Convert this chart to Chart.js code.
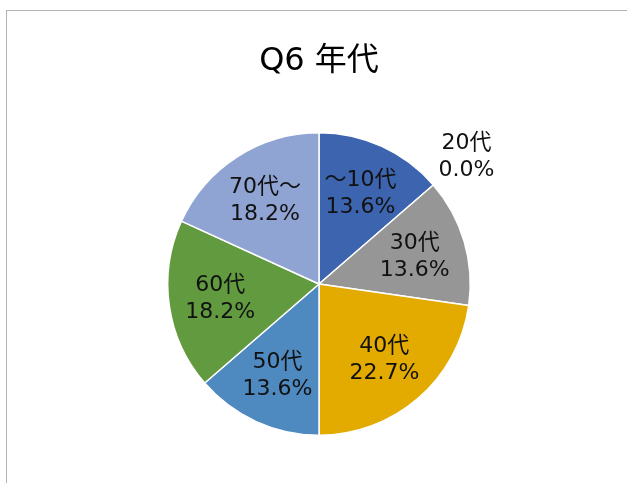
<!DOCTYPE html>
<html>
<head>
<meta charset="utf-8">
<script src="https://cdn.jsdelivr.net/npm/chart.js@4/dist/chart.umd.min.js"></script>
<style>
  html, body { margin: 0; padding: 0; background: #fff; overflow: hidden; }
  #wrap { position: relative; width: 627px; height: 483px; }
  #frame { position: absolute; left: 6px; top: 10px; width: 800px; height: 700px; border: 1px solid #b3b3b3; box-sizing: border-box; }
  canvas { position: absolute; left: 0; top: 0; }
</style>
</head>
<body>
<div id="wrap">
  <div id="frame"></div>
  <canvas id="c" width="627" height="483"></canvas>
</div>
<script>
const categories = ["～10代", "20代", "30代", "40代", "50代", "60代", "70代～"];
const counts = [3, 0, 3, 5, 3, 4, 4];
const percentLabels = ["13.6%", "0.0%", "13.6%", "22.7%", "13.6%", "18.2%", "18.2%"];
const colors = ["#3D64AE", "#FFFFFF", "#969696", "#E3AB00", "#4E89C0", "#619A3F", "#8FA4D3"];

const FONT = '"DejaVu Sans", "Noto Sans CJK JP", sans-serif';

const labelPlugin = {
  id: 'sliceLabels',
  afterDatasetsDraw(chart) {
    const ctx = chart.ctx;
    const meta = chart.getDatasetMeta(0);
    ctx.save();
    ctx.font = '22px ' + FONT;
    ctx.fillStyle = '#111';
    ctx.textAlign = 'center';
    ctx.textBaseline = 'middle';
    meta.data.forEach((arc, i) => {
      const p = arc.getProps(['x', 'y', 'startAngle', 'endAngle', 'outerRadius'], true);
      const mid = (p.startAngle + p.endAngle) / 2;
      const f = counts[i] === 0 ? 1.29 : 0.66;
      const r = p.outerRadius * f;
      const cx = p.x + Math.cos(mid) * r;
      const cy = p.y + Math.sin(mid) * r;
      ctx.fillText(categories[i], cx, cy - 13);
      ctx.fillText(percentLabels[i], cx, cy + 14);
    });
    ctx.restore();
  }
};

new Chart(document.getElementById('c'), {
  type: 'pie',
  data: {
    labels: categories,
    datasets: [{
      data: counts,
      backgroundColor: colors,
      borderColor: '#ffffff',
      borderWidth: 1.5
    }]
  },
  options: {
    responsive: false,
    animation: false,
    layout: { padding: { left: 11, right: 0, top: 0, bottom: 47 } },
    plugins: {
      legend: { display: false },
      tooltip: { enabled: false },
      title: {
        display: true,
        text: 'Q6 年代',
        color: '#000',
        font: { family: FONT, size: 32, weight: 'normal', lineHeight: 1.2 },
        padding: { top: 42, bottom: 51.6 }
      }
    }
  },
  plugins: [labelPlugin]
});
</script>
</body>
</html>
